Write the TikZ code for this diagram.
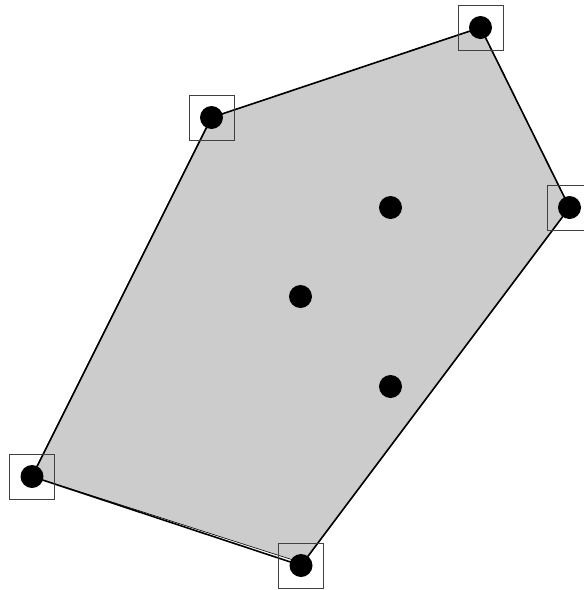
\documentclass[tikz,border=0pt]{standalone}
\begin{document}
\begin{tikzpicture}[x=1pt,y=-1pt,
  dot/.style={circle,fill=black,inner sep=0pt,minimum size=23pt},
  frame/.style={draw=black!75,line width=0.8pt,inner sep=0pt,minimum size=45pt},
  hull/.style={line width=1.6pt,black},
  region/.style={fill=black!20,draw=black,line width=0.6pt}]
\useasboundingbox (0,0) rectangle (584,590);
\coordinate (A) at (32,476.5);
\coordinate (B) at (211.5,117.5);
\coordinate (C) at (480.5,27.5);
\coordinate (D) at (569.5,207.5);
\coordinate (E) at (301,565.5);
\coordinate (E2) at (302.8,563.1);
% shaded region
\path[region] (A) -- (B) -- (C) -- (D) -- (E2) -- cycle;
% hull edges
\draw[hull] (A) -- (B) -- (C) -- (D) -- (E) -- (A);
% frames
\node[frame] (fA) at (A) {};
\node[frame] (fB) at (B) {};
\node[frame] (fC) at (C) {};
\node[frame] (fD) at (D) {};
\node[frame] (fE) at (E) {};
% points
\node[dot] (pA) at (A) {};
\node[dot] (pB) at (B) {};
\node[dot] (pC) at (C) {};
\node[dot] (pD) at (D) {};
\node[dot] (pE) at (E) {};
\node[dot] (p1) at (390.5,207.5) {};
\node[dot] (p2) at (300.5,296.5) {};
\node[dot] (p3) at (390.5,386.5) {};
\end{tikzpicture}
\end{document}
